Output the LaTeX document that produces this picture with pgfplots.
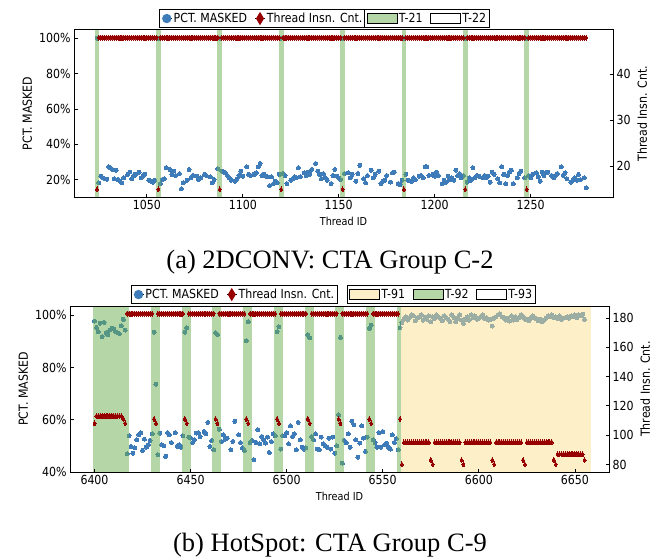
\documentclass[border=0pt]{standalone}
\usepackage{pgfplots}
\pgfplotsset{compat=1.18}
\usepackage{fontspec}
\setmainfont{Liberation Serif}
\newfontfamily\pf{DejaVu Sans}[FakeStretch=0.88]
\definecolor{cblue}{RGB}{62,124,185}
\definecolor{cred}{RGB}{150,0,0}
\definecolor{cgreen}{RGB}{108,174,78}
\definecolor{cyell}{RGB}{251,225,145}
\pgfplotsset{
  base/.style={scale only axis, width=539pt, height=166pt,
    tick align=inside, major tick length=3.5pt,
    axis line style={line width=1pt},
    every tick/.style={black, line width=0.8pt},
    tick label style={font=\pf\fontsize{12.5}{14}\selectfont},
    label style={font=\pf\fontsize{12.5}{14}\selectfont},
    /pgf/number format/assume math mode=true,
    /pgf/number format/1000 sep={},
    legend style={draw=black, line width=0.9pt, fill=white, inner xsep=2pt, inner ysep=2pt,
      font=\pf\fontsize{12.5}{13.5}\selectfont, yshift=2pt,
      /tikz/every even column/.append style={column sep=6pt},
      nodes={inner sep=1.5pt}},
    legend cell align=left,
  },
  pctst/.style={only marks, mark=*, mark size=2pt, mark options={draw=cblue, fill=cblue, line width=0pt}, forget plot},
  insst/.style={only marks, mark=diamond*, mark size=2.5pt, mark options={draw=cred, fill=cred, line width=0pt, xscale=0.8}, forget plot},
  gband/.style={draw=none, fill=cgreen, fill opacity=0.5, forget plot},
  yband/.style={draw=none, fill=cyell, fill opacity=0.5, forget plot},
  leg1/.style={legend image code/.code={\path (0pt,0pt) -- (10pt,0pt); \draw[##1] plot coordinates {(5pt,0pt)};}},
  leg2/.style={legend image code/.code={\draw[line width=0.8pt, ##1] (0pt,-5pt) rectangle (30pt,5pt);}},
}
\begin{document}
\begin{tikzpicture}
\useasboundingbox (0pt,0pt) rectangle (660pt,558pt);
% ================= (a) =================
\begin{axis}[base, at={(74pt,361pt)}, anchor=south west, height=167pt,
  xmin=1012, xmax=1293, ymin=10.1, ymax=104.7,
  axis x line=none, axis y line*=left,
  ytick={20,40,60,80,100}, yticklabel={\pgfmathprintnumber{\tick}\%},
  ylabel={PCT. MASKED},
  legend style={at={(0.350,1)}, anchor=south}, legend columns=2]
\addlegendimage{leg1, only marks, mark=*, mark size=4.2pt, mark options={draw=cblue, fill=cblue}}
\addlegendentry{PCT. MASKED}
\addlegendimage{leg1, only marks, mark=diamond*, mark size=5.8pt, mark options={draw=cred, fill=cred, xscale=0.8}}
\addlegendentry{Thread Insn. Cnt.}
\addplot[pctst] coordinates {(1024,100) (1025,18.1) (1026,21.9) (1027,21.0) (1028,20.4) (1029,20.2) (1030,27.2) (1031,26.7) (1032,25.7) (1033,20.4) (1034,25.3) (1035,20.0) (1036,19.0) (1037,18.1) (1038,21.0) (1040,22.9) (1041,24.2) (1042,20.4) (1043,21.9) (1044,22.9) (1046,24.2) (1047,21.0) (1048,22.3) (1049,22.9) (1051,19.6) (1052,19.0) (1053,18.5) (1054,19.6) (1056,100) (1057,17.7) (1058,20.0) (1059,20.4) (1060,26.7) (1062,25.7) (1063,22.9) (1064,24.8) (1065,22.3) (1067,23.4) (1068,14.7) (1069,18.1) (1071,19.6) (1072,25.7) (1073,21.0) (1074,22.3) (1076,21.9) (1077,20.0) (1078,21.0) (1080,22.9) (1081,22.3) (1083,21.5) (1084,18.1) (1085,20.0) (1087,26.1) (1088,100) (1089,24.8) (1090,24.2) (1091,23.8) (1092,22.3) (1093,21.0) (1094,19.6) (1096,19.0) (1097,20.4) (1098,22.3) (1099,24.8) (1100,21.9) (1102,27.2) (1103,22.9) (1104,22.3) (1106,22.9) (1107,23.8) (1108,27.2) (1109,29.1) (1110,22.3) (1111,22.9) (1112,21.9) (1113,21.5) (1114,16.6) (1115,21.5) (1116,17.7) (1117,19.0) (1118,18.1) (1119,22.9) (1120,100) (1121,23.4) (1122,22.3) (1123,17.7) (1125,19.6) (1126,20.4) (1127,21.5) (1128,21.0) (1129,26.7) (1130,21.5) (1132,23.8) (1133,22.3) (1134,24.2) (1135,22.9) (1136,25.7) (1138,29.1) (1139,24.8) (1140,22.9) (1141,20.4) (1142,23.4) (1143,21.0) (1144,19.6) (1146,17.7) (1147,22.3) (1148,25.7) (1149,21.9) (1150,21.0) (1151,20.0) (1152,100) (1153,23.4) (1155,23.8) (1156,21.0) (1157,22.9) (1159,19.0) (1160,23.4) (1161,28.0) (1163,20.4) (1164,18.1) (1165,22.3) (1167,25.3) (1168,21.0) (1169,22.9) (1171,24.8) (1172,17.7) (1173,19.0) (1174,19.6) (1175,22.3) (1177,18.5) (1178,23.8) (1179,24.2) (1181,17.7) (1182,17.1) (1183,19.6) (1184,100) (1185,22.9) (1186,19.6) (1188,19.0) (1189,21.0) (1190,20.0) (1192,21.9) (1193,22.3) (1194,21.0) (1195,27.2) (1196,27.2) (1197,22.3) (1199,22.9) (1200,21.9) (1201,24.2) (1202,22.3) (1204,17.7) (1205,19.6) (1206,18.5) (1207,21.9) (1208,20.0) (1209,21.0) (1210,19.6) (1211,25.3) (1212,22.3) (1213,23.4) (1214,21.0) (1215,22.3) (1216,100) (1217,18.5) (1218,21.0) (1219,19.6) (1220,26.7) (1221,21.0) (1222,22.3) (1223,21.9) (1225,21.0) (1226,22.3) (1227,21.0) (1228,21.9) (1229,18.5) (1230,24.2) (1231,22.9) (1233,20.4) (1234,18.1) (1235,27.2) (1236,22.9) (1237,17.7) (1238,22.3) (1239,24.2) (1240,25.3) (1241,17.7) (1243,21.0) (1244,23.4) (1245,24.8) (1247,21.0) (1248,100) (1249,22.3) (1250,21.0) (1251,22.9) (1253,23.8) (1254,21.5) (1255,19.0) (1256,24.2) (1257,22.3) (1258,23.8) (1259,24.2) (1261,22.3) (1262,21.0) (1263,22.3) (1264,23.4) (1266,27.2) (1267,22.3) (1268,23.8) (1269,20.4) (1271,18.5) (1272,19.6) (1273,21.0) (1274,19.6) (1275,22.9) (1276,20.0) (1278,21.0) (1279,15.2)};
\end{axis}
\begin{axis}[base, at={(74pt,361pt)}, anchor=south west, height=167pt,
  xmin=1012, xmax=1293, ymin=13.35, ymax=49.65, axis on top,
  xtick={1050,1100,1150,1200,1250}, xtick pos=left,
  ytick={20,30,40}, ytick pos=right, yticklabel pos=right,
  xlabel={Thread ID}, ylabel={Thread Insn. Cnt.},
  xlabel style={font=\pf\fontsize{11}{12}\selectfont},
  legend style={at={(0.655,1)}, anchor=south}, legend columns=2]
\addlegendimage{leg2, fill=cgreen, fill opacity=0.5, draw=black}
\addlegendentry{T-21}
\addlegendimage{leg2, fill=white, draw=black}
\addlegendentry{T-22}
\addplot[insst] coordinates {(1024,15) (1056,15) (1088,15) (1120,15) (1152,15) (1184,15) (1216,15) (1248,15)
(1025,48)(1026,48)(1027,48)(1028,48)(1029,48)(1030,48)(1031,48)(1032,48)(1033,48)(1034,48)(1035,48)(1036,48)(1037,48)(1038,48)(1039,48)(1040,48)(1041,48)(1042,48)(1043,48)(1044,48)(1045,48)(1046,48)(1047,48)(1048,48)(1049,48)(1050,48)(1051,48)(1052,48)(1053,48)(1054,48)(1055,48)
(1057,48)(1058,48)(1059,48)(1060,48)(1061,48)(1062,48)(1063,48)(1064,48)(1065,48)(1066,48)(1067,48)(1068,48)(1069,48)(1070,48)(1071,48)(1072,48)(1073,48)(1074,48)(1075,48)(1076,48)(1077,48)(1078,48)(1079,48)(1080,48)(1081,48)(1082,48)(1083,48)(1084,48)(1085,48)(1086,48)(1087,48)
(1089,48)(1090,48)(1091,48)(1092,48)(1093,48)(1094,48)(1095,48)(1096,48)(1097,48)(1098,48)(1099,48)(1100,48)(1101,48)(1102,48)(1103,48)(1104,48)(1105,48)(1106,48)(1107,48)(1108,48)(1109,48)(1110,48)(1111,48)(1112,48)(1113,48)(1114,48)(1115,48)(1116,48)(1117,48)(1118,48)(1119,48)
(1121,48)(1122,48)(1123,48)(1124,48)(1125,48)(1126,48)(1127,48)(1128,48)(1129,48)(1130,48)(1131,48)(1132,48)(1133,48)(1134,48)(1135,48)(1136,48)(1137,48)(1138,48)(1139,48)(1140,48)(1141,48)(1142,48)(1143,48)(1144,48)(1145,48)(1146,48)(1147,48)(1148,48)(1149,48)(1150,48)(1151,48)
(1153,48)(1154,48)(1155,48)(1156,48)(1157,48)(1158,48)(1159,48)(1160,48)(1161,48)(1162,48)(1163,48)(1164,48)(1165,48)(1166,48)(1167,48)(1168,48)(1169,48)(1170,48)(1171,48)(1172,48)(1173,48)(1174,48)(1175,48)(1176,48)(1177,48)(1178,48)(1179,48)(1180,48)(1181,48)(1182,48)(1183,48)
(1185,48)(1186,48)(1187,48)(1188,48)(1189,48)(1190,48)(1191,48)(1192,48)(1193,48)(1194,48)(1195,48)(1196,48)(1197,48)(1198,48)(1199,48)(1200,48)(1201,48)(1202,48)(1203,48)(1204,48)(1205,48)(1206,48)(1207,48)(1208,48)(1209,48)(1210,48)(1211,48)(1212,48)(1213,48)(1214,48)(1215,48)
(1217,48)(1218,48)(1219,48)(1220,48)(1221,48)(1222,48)(1223,48)(1224,48)(1225,48)(1226,48)(1227,48)(1228,48)(1229,48)(1230,48)(1231,48)(1232,48)(1233,48)(1234,48)(1235,48)(1236,48)(1237,48)(1238,48)(1239,48)(1240,48)(1241,48)(1242,48)(1243,48)(1244,48)(1245,48)(1246,48)(1247,48)
(1249,48)(1250,48)(1251,48)(1252,48)(1253,48)(1254,48)(1255,48)(1256,48)(1257,48)(1258,48)(1259,48)(1260,48)(1261,48)(1262,48)(1263,48)(1264,48)(1265,48)(1266,48)(1267,48)(1268,48)(1269,48)(1270,48)(1271,48)(1272,48)(1273,48)(1274,48)(1275,48)(1276,48)(1277,48)(1278,48)(1279,48)};
\addplot[gband] coordinates {(1022.8,0) (1025.25,0) (1025.25,60) (1022.8,60)} -- cycle;
\addplot[gband] coordinates {(1054.8,0) (1057.25,0) (1057.25,60) (1054.8,60)} -- cycle;
\addplot[gband] coordinates {(1086.8,0) (1089.25,0) (1089.25,60) (1086.8,60)} -- cycle;
\addplot[gband] coordinates {(1118.8,0) (1121.25,0) (1121.25,60) (1118.8,60)} -- cycle;
\addplot[gband] coordinates {(1150.8,0) (1153.25,0) (1153.25,60) (1150.8,60)} -- cycle;
\addplot[gband] coordinates {(1182.8,0) (1185.25,0) (1185.25,60) (1182.8,60)} -- cycle;
\addplot[gband] coordinates {(1214.8,0) (1217.25,0) (1217.25,60) (1214.8,60)} -- cycle;
\addplot[gband] coordinates {(1246.8,0) (1249.25,0) (1249.25,60) (1246.8,60)} -- cycle;
\end{axis}
\node[font=\fontsize{26.5}{30}\selectfont] at (330pt,296pt) {(a) 2DCONV: CTA Group C-2};
% ================= (b) =================
\begin{axis}[base, at={(70pt,86pt)}, anchor=south west,
  xmin=6387.25, xmax=6667.75, ymin=40, ymax=103.6,
  axis x line=none, axis y line*=left,
  ytick={40,60,80,100}, yticklabel={\pgfmathprintnumber{\tick}\%},
  ylabel={PCT. MASKED},
  legend style={at={(0.305,1)}, anchor=south}, legend columns=2]
\addlegendimage{leg1, only marks, mark=*, mark size=4.2pt, mark options={draw=cblue, fill=cblue}}
\addlegendentry{PCT. MASKED}
\addlegendimage{leg1, only marks, mark=diamond*, mark size=5.8pt, mark options={draw=cred, fill=cred, xscale=0.8}}
\addlegendentry{Thread Insn. Cnt.}
\addplot[pctst] coordinates {(6400,97.8)(6401,95.4)(6402,93.8)(6403,97.0)(6404,91.9)(6405,97.3)(6406,93.4)(6407,92.5)(6408,94.4)(6409,95.1)(6410,94.7)(6411,93.8)(6412,93.4)(6413,93.0)(6414,96.0)(6415,98.5)(6416,94.4)
(6417,47.0)(6418,53.9)(6419,49.8)(6420,47.2)(6421,49.2)(6422,52.3)(6423,54.3)(6424,55.1)(6425,48.3)(6426,52.6)(6427,49.5)(6428,50.4)(6429,52.1)(6430,54.6)(6431,93.5)(6432,73.6)(6433,46.6)(6434,54.9)(6435,50.4)(6436,50.0)(6437,46.0)(6438,55.1)(6439,54.3)(6440,51.3)(6442,55.1)(6443,49.8)(6444,50.4)(6445,49.5)(6446,53.9)(6447,93.6)(6448,95.2)(6449,53.4)(6450,53.0)(6451,51.3)(6452,52.3)(6453,54.9)(6454,55.1)(6455,53.6)(6457,55.5)(6458,54.6)(6459,59.0)(6460,49.8)(6461,52.1)(6462,48.5)(6463,93.3)(6464,92.7)(6465,56.4)(6466,51.7)(6467,54.3)(6468,52.6)(6469,53.0)(6471,48.5)(6472,51.7)(6473,59.4)(6475,54.3)(6476,51.3)(6477,49.2)(6478,48.3)(6479,90.2)(6480,97.6)(6481,51.3)(6482,52.1)(6483,44.7)(6484,51.3)(6485,56.2)(6486,50.8)(6487,53.6)(6488,52.3)(6489,51.1)(6490,53.4)(6491,47.5)(6492,51.7)(6493,54.6)(6494,53.9)(6495,93.7)(6496,95.6)(6497,48.8)(6498,53.9)(6499,53.9)(6500,55.1)(6501,50.8)(6502,57.7)(6503,53.6)(6504,54.6)(6505,48.5)(6506,59.0)(6507,52.3)(6508,49.5)(6509,48.8)(6510,49.2)(6511,92.6)(6512,91.4)(6513,53.6)(6514,52.3)(6515,54.6)(6516,48.8)(6517,48.5)(6518,53.4)(6519,50.8)(6520,50.0)(6521,49.5)(6522,53.0)(6523,48.8)(6524,53.4)(6525,47.2)(6526,50.0)(6527,61.9)(6528,91.6)(6529,43.4)(6530,52.1)(6531,51.3)(6532,54.6)(6533,49.5)(6534,59.4)(6535,58.1)(6536,52.3)(6537,45.7)(6538,51.1)(6539,57.7)(6540,53.0)(6541,47.9)(6542,53.4)(6543,95.0)(6544,96.3)(6545,52.3)(6546,51.3)(6547,49.5)(6548,55.1)(6549,49.5)(6550,55.5)(6551,50.4)(6552,51.1)(6553,49.5)(6554,48.8)(6555,54.3)(6556,51.3)(6557,52.8)(6558,48.5)(6559,95.3)
(6560,97.2)(6561,98.5)(6562,99.5)(6563,98.2)(6564,99.2)(6565,100.2)(6566,99.8)(6567,98.0)(6568,98.9)(6569,99.5)(6570,100.2)(6571,98.2)(6572,99.2)(6573,98.6)(6574,99.8)(6575,97.6)(6576,99.5)(6577,98.8)(6578,100.2)(6579,99.5)(6580,98.9)(6581,98.0)(6582,99.8)(6583,99.2)(6584,98.5)(6585,97.6)(6586,100.2)(6587,99.2)(6588,97.6)(6589,98.9)(6590,100.2)(6591,98.2)(6592,97.0)(6593,98.5)(6594,99.5)(6595,98.2)(6596,100.2)(6597,99.2)(6598,99.8)(6599,98.5)(6600,98.9)(6601,99.5)(6602,100.2)(6603,98.8)(6604,99.2)(6605,98.2)(6606,98.5)(6607,95.9)(6608,98.9)(6609,99.5)(6610,100.2)(6611,100.6)(6612,99.5)(6613,99.2)(6614,98.2)(6615,98.9)(6616,97.8)(6617,99.8)(6618,98.2)(6619,99.5)(6620,98.5)(6621,99.2)(6622,100.2)(6623,99.5)(6624,98.5)(6625,98.5)(6626,98.0)(6627,98.9)(6628,99.8)(6629,99.2)(6630,98.7)(6631,98.0)(6632,98.5)(6633,97.6)(6634,98.2)(6635,98.9)(6636,99.8)(6637,99.5)(6638,100.2)(6639,99.2)(6640,99.5)(6641,98.9)(6642,99.8)(6643,98.5)(6644,99.0)(6645,99.2)(6646,99.5)(6647,98.9)(6648,99.8)(6649,99.5)(6650,100.2)(6651,99.2)(6652,100.2)(6653,99.8)(6654,100.4)(6655,98.5)};
\end{axis}
\begin{axis}[base, at={(70pt,86pt)}, anchor=south west,
  xmin=6387.25, xmax=6667.75, ymin=74.85, ymax=188.15, axis on top,
  xtick={6400,6450,6500,6550,6600,6650}, xtick pos=left,
  ytick={80,100,120,140,160,180}, ytick pos=right, yticklabel pos=right,
  xlabel={Thread ID}, ylabel={Thread Insn. Cnt.},
  xlabel style={font=\pf\fontsize{11}{12}\selectfont},
  legend style={at={(0.689,1)}, anchor=south}, legend columns=3]
\addlegendimage{leg2, fill=cyell, fill opacity=0.5, draw=black}
\addlegendentry{T-91}
\addlegendimage{leg2, fill=cgreen, fill opacity=0.5, draw=black}
\addlegendentry{T-92}
\addlegendimage{leg2, fill=white, draw=black}
\addlegendentry{T-93}
\addplot[insst] coordinates {(6400,108)(6401,113)(6402,113)(6403,113)(6404,113)(6405,113)(6406,113)(6407,113)(6408,113)(6409,113)(6410,113)(6411,113)(6412,113)(6413,113)(6414,113)(6415,111)(6416,108)
(6417,183)(6418,183)(6419,183)(6420,183)(6421,183)(6422,183)(6423,183)(6424,183)(6425,183)(6426,183)(6427,183)(6428,183)(6429,183)(6430,183)(6431,111)(6432,108)
(6433,183)(6434,183)(6435,183)(6436,183)(6437,183)(6438,183)(6439,183)(6440,183)(6441,183)(6442,183)(6443,183)(6444,183)(6445,183)(6446,183)(6447,111)(6448,108)
(6449,183)(6450,183)(6451,183)(6452,183)(6453,183)(6454,183)(6455,183)(6456,183)(6457,183)(6458,183)(6459,183)(6460,183)(6461,183)(6462,183)(6463,111)(6464,108)
(6465,183)(6466,183)(6467,183)(6468,183)(6469,183)(6470,183)(6471,183)(6472,183)(6473,183)(6474,183)(6475,183)(6476,183)(6477,183)(6478,183)(6479,111)(6480,108)
(6481,183)(6482,183)(6483,183)(6484,183)(6485,183)(6486,183)(6487,183)(6488,183)(6489,183)(6490,183)(6491,183)(6492,183)(6493,183)(6494,183)(6495,111)(6496,108)
(6497,183)(6498,183)(6499,183)(6500,183)(6501,183)(6502,183)(6503,183)(6504,183)(6505,183)(6506,183)(6507,183)(6508,183)(6509,183)(6510,183)(6511,111)(6512,108)
(6513,183)(6514,183)(6515,183)(6516,183)(6517,183)(6518,183)(6519,183)(6520,183)(6521,183)(6522,183)(6523,183)(6524,183)(6525,183)(6526,183)(6527,111)(6528,108)
(6529,183)(6530,183)(6531,183)(6532,183)(6533,183)(6534,183)(6535,183)(6536,183)(6537,183)(6538,183)(6539,183)(6540,183)(6541,183)(6542,183)(6543,111)(6544,108)
(6545,183)(6546,183)(6547,183)(6548,183)(6549,183)(6550,183)(6551,183)(6552,183)(6553,183)(6554,183)(6555,183)(6556,183)(6557,183)(6558,183)(6559,111)(6560,80)
(6561,95)(6562,95)(6563,95)(6564,95)(6565,95)(6566,95)(6567,95)(6568,95)(6569,95)(6570,95)(6571,95)(6572,95)(6573,95)(6574,95)(6575,83)(6576,80)
(6577,95)(6578,95)(6579,95)(6580,95)(6581,95)(6582,95)(6583,95)(6584,95)(6585,95)(6586,95)(6587,95)(6588,95)(6589,95)(6590,95)(6591,83)(6592,80)
(6593,95)(6594,95)(6595,95)(6596,95)(6597,95)(6598,95)(6599,95)(6600,95)(6601,95)(6602,95)(6603,95)(6604,95)(6605,95)(6606,95)(6607,83)(6608,80)
(6609,95)(6610,95)(6611,95)(6612,95)(6613,95)(6614,95)(6615,95)(6616,95)(6617,95)(6618,95)(6619,95)(6620,95)(6621,95)(6622,95)(6623,83)(6624,80)
(6625,95)(6626,95)(6627,95)(6628,95)(6629,95)(6630,95)(6631,95)(6632,95)(6633,95)(6634,95)(6635,95)(6636,95)(6637,95)(6638,95)(6639,83)(6640,80)
(6641,87)(6642,87)(6643,87)(6644,87)(6645,87)(6646,87)(6647,87)(6648,87)(6649,87)(6650,87)(6651,87)(6652,87)(6653,87)(6654,87)(6655,83)};
\addplot[gband] coordinates {(6399.4,0) (6417.8,0) (6417.8,200) (6399.4,200)} -- cycle;
\addplot[gband] coordinates {(6429.4,0) (6434.0,0) (6434.0,200) (6429.4,200)} -- cycle;
\addplot[gband] coordinates {(6445.4,0) (6450.0,0) (6450.0,200) (6445.4,200)} -- cycle;
\addplot[gband] coordinates {(6461.4,0) (6466.0,0) (6466.0,200) (6461.4,200)} -- cycle;
\addplot[gband] coordinates {(6477.4,0) (6482.0,0) (6482.0,200) (6477.4,200)} -- cycle;
\addplot[gband] coordinates {(6493.4,0) (6498.0,0) (6498.0,200) (6493.4,200)} -- cycle;
\addplot[gband] coordinates {(6509.4,0) (6514.0,0) (6514.0,200) (6509.4,200)} -- cycle;
\addplot[gband] coordinates {(6525.4,0) (6530.0,0) (6530.0,200) (6525.4,200)} -- cycle;
\addplot[gband] coordinates {(6541.4,0) (6546.0,0) (6546.0,200) (6541.4,200)} -- cycle;
\addplot[gband] coordinates {(6557.4,0) (6559.6,0) (6559.6,200) (6557.4,200)} -- cycle;
\addplot[yband] coordinates {(6559.6,0) (6658.5,0) (6658.5,200) (6559.6,200)} -- cycle;
\end{axis}
\node[font=\fontsize{26.5}{30}\selectfont] at (330pt,13pt) {(b) HotSpot: CTA Group C-9};
\end{tikzpicture}
\end{document}
